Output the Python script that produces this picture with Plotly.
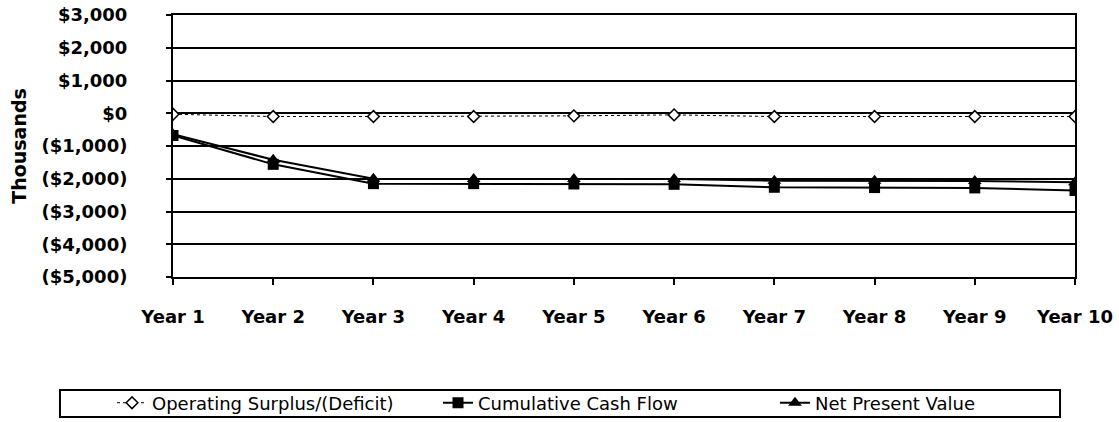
import plotly.graph_objects as go

years = ["Year 1", "Year 2", "Year 3", "Year 4", "Year 5", "Year 6", "Year 7", "Year 8", "Year 9", "Year 10"]
operating_surplus = [-30, -100, -100, -100, -80, -50, -100, -100, -100, -100]
cumulative_cash_flow = [-680, -1560, -2150, -2150, -2160, -2170, -2260, -2270, -2280, -2360]
net_present_value = [-640, -1420, -2000, -2010, -2010, -2010, -2060, -2060, -2070, -2110]

tick_vals = [3000, 2000, 1000, 0, -1000, -2000, -3000, -4000, -5000]
tick_text = ["$3,000", "$2,000", "$1,000", "$0", "($1,000)", "($2,000)", "($3,000)", "($4,000)", "($5,000)"]

FONT = "DejaVu Sans"
LEG_Y = -0.481

fig = go.Figure()
fig.add_trace(go.Scatter(
    x=years, y=operating_surplus, name="Operating Surplus/(Deficit)", mode="lines+markers",
    line=dict(color="black", width=1, dash="dot"),
    marker=dict(symbol="diamond", size=9, color="white", line=dict(color="black", width=1.5)),
    legend="legend",
))
fig.add_trace(go.Scatter(
    x=years, y=cumulative_cash_flow, name="Cumulative Cash Flow", mode="lines+markers",
    line=dict(color="black", width=2),
    marker=dict(symbol="square", size=11, color="black"),
    legend="legend2",
))
fig.add_trace(go.Scatter(
    x=years, y=net_present_value, name="Net Present Value", mode="lines+markers",
    line=dict(color="black", width=2),
    marker=dict(symbol="triangle-up", size=12, color="black"),
    legend="legend3",
))

leg_common = dict(orientation="h", yanchor="middle", y=LEG_Y, xanchor="left",
                  bgcolor="rgba(0,0,0,0)", borderwidth=0,
                  font=dict(family=FONT, size=18, color="black"))

fig.update_layout(
    width=1119, height=422,
    margin=dict(l=173, r=44, t=15, b=145, autoexpand=False),
    plot_bgcolor="white", paper_bgcolor="white",
    font=dict(family=FONT, color="black", size=16),
    showlegend=True,
    legend=dict(x=-0.0676, **leg_common),
    legend2=dict(x=0.2938, **leg_common),
    legend3=dict(x=0.6674, **leg_common),
    shapes=[dict(type="rect", xref="paper", yref="paper",
                 x0=-0.1253, x1=0.9834, y0=-0.5344, y1=-0.4313,
                 line=dict(color="black", width=2), fillcolor="rgba(0,0,0,0)", layer="below")],
    xaxis=dict(
        type="category", range=[0, 9], showgrid=False, automargin=False,
        ticks="outside", ticklen=6, tickcolor="black", tickwidth=2,
        showline=True, mirror=True, linecolor="black", linewidth=2,
        tickfont=dict(family=FONT, size=18, color="black", weight="bold"),
        ticklabelstandoff=16, ticklabeloverflow="allow",
    ),
    yaxis=dict(
        range=[-5000, 3000], tickvals=tick_vals, ticktext=tick_text, automargin=False,
        showgrid=True, gridcolor="black", gridwidth=2,
        zeroline=False,
        ticks="outside", ticklen=5, tickcolor="black", tickwidth=2,
        showline=True, mirror=True, linecolor="black", linewidth=2,
        tickfont=dict(family=FONT, size=18, color="black", weight="bold"),
        ticklabelstandoff=35, ticklabeloverflow="allow",
        title=dict(text="Thousands", font=dict(family=FONT, size=19, color="black", weight="bold"), standoff=10),
    ),
)

fig.write_html("out.html", config={"displayModeBar": False},
               post_script="document.body.style.margin='0';")
